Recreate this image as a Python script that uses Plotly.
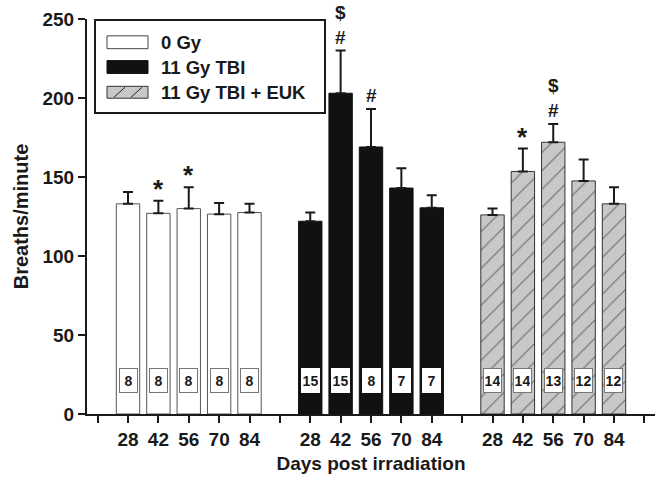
import plotly.graph_objects as go

# ---- data ----
days = ["28", "42", "56", "70", "84"]
series_names = ["0 Gy", "11 Gy TBI", "11 Gy TBI + EUK"]
group_pos = [[1, 2, 3, 4, 5], [7, 8, 9, 10, 11], [13, 14, 15, 16, 17]]
sep_pos = [0, 6, 12, 18]

means_0gy = [133, 127, 130, 126.5, 127.5]
err_0gy = [7.5, 8, 13.5, 7, 5.5]
means_tbi = [122, 203, 169, 143, 130.5]
err_tbi = [5.5, 27, 24, 12.5, 8]
means_euk = [126, 153.5, 172, 147.5, 133]
err_euk = [4, 14.5, 11.5, 13.5, 10.5]

n_0gy = ["8", "8", "8", "8", "8"]
n_tbi = ["15", "15", "8", "7", "7"]
n_euk = ["14", "14", "13", "12", "12"]

sig_0gy = ["", "*", "*", "", ""]
sig_tbi = ["", "$<br>#", "#", "", ""]
sig_euk = ["", "*", "$<br>#", "", ""]

n_label_y = 21.5

FONT = "Liberation Sans, Arial, sans-serif"
INK = "#1a1a1a"

fig = go.Figure()

styles = [
    dict(color="white", line=dict(color="#555555", width=1)),
    dict(color="#111111", line=dict(color="#111111", width=1)),
    dict(color="#c8c8c8", line=dict(color="#333333", width=1),
         pattern=dict(shape="/", bgcolor="#c8c8c8", fgcolor="#111111",
                      size=13, solidity=0.09)),
]
all_means = [means_0gy, means_tbi, means_euk]
all_errs = [err_0gy, err_tbi, err_euk]
all_n = [n_0gy, n_tbi, n_euk]
all_sig = [sig_0gy, sig_tbi, sig_euk]

for i in range(3):
    fig.add_trace(go.Bar(
        x=group_pos[i], y=all_means[i], name=series_names[i],
        width=0.77, marker=styles[i], showlegend=False,
        error_y=dict(type="data", array=all_errs[i], arrayminus=[0] * 5,
                     symmetric=False, color=INK, thickness=2, width=5),
    ))

annotations = []
for i in range(3):
    for x, m, e, n, s in zip(group_pos[i], all_means[i], all_errs[i], all_n[i], all_sig[i]):
        annotations.append(dict(
            x=x, y=n_label_y, xref="x", yref="y", text="<b>" + n + "</b>", showarrow=False,
            font=dict(family=FONT, size=14, color=INK), bgcolor="white",
            bordercolor="#777777" if i != 1 else "white", borderwidth=1,
            borderpad=1, width=15, height=21,
        ))
        if s:
            star = "*" in s
            annotations.append(dict(
                x=x, y=m + e, xref="x", yref="y", text="<b>" + s + "</b>",
                showarrow=False, yanchor="bottom", yshift=-5 if star else 1,
                font=dict(family=FONT, size=26 if star else 19, color=INK),
            ))

# ---- manual legend (wide swatches like the original) ----
L, R, T, B = 87, 655, 15, 414
def px(x):
    return (x - L) / (R - L)
def py(y):
    return (B - y) / (B - T)

shapes = [dict(type="rect", xref="paper", yref="paper",
               x0=px(95), x1=px(325), y0=py(110), y1=py(16),
               line=dict(color=INK, width=2), fillcolor="white", layer="above")]
rows = [(32, 45, "white", "#444444"), (57, 70, "#111111", "#111111"), (83, 95, "#c8c8c8", "#333333")]
for (y0, y1, fc, lc), name in zip(rows, series_names):
    shapes.append(dict(type="rect", xref="paper", yref="paper",
                       x0=px(107), x1=px(148), y0=py(y1), y1=py(y0),
                       line=dict(color=lc, width=1), fillcolor=fc, layer="above"))
    annotations.append(dict(x=px(159), y=py((y0 + y1) / 2), xref="paper", yref="paper",
                            text="<b>" + name + "</b>", showarrow=False,
                            xanchor="left", yanchor="middle",
                            font=dict(family=FONT, size=18.5, color=INK)))
for xa in (114, 131):
    shapes.append(dict(type="line", xref="paper", yref="paper",
                       x0=px(xa), y0=py(94), x1=px(xa + 11), y1=py(84),
                       line=dict(color="#222222", width=1), layer="above"))

tickvals = list(range(19))
ticktext = []
for t in tickvals:
    if t in sep_pos:
        ticktext.append("")
    else:
        g = 0 if t < 6 else (1 if t < 12 else 2)
        ticktext.append(days[group_pos[g].index(t)])

fig.update_layout(
    width=664, height=482,
    margin=dict(l=L, r=664 - R, t=T, b=482 - B),
    paper_bgcolor="white", plot_bgcolor="white",
    barmode="overlay",
    font=dict(family=FONT, size=18, color=INK),
    showlegend=False,
    shapes=shapes, annotations=annotations,
    xaxis=dict(range=[-0.35, 18.35], tickvals=tickvals, ticktext=ticktext,
               tickfont=dict(family=FONT, size=19, color=INK, weight="bold"),
               ticks="outside", ticklen=7, tickwidth=2, tickcolor=INK,
               showline=True, linewidth=2, linecolor=INK, showgrid=False, zeroline=False,
               title=dict(text="<b>Days post irradiation</b>", font=dict(size=19), standoff=8)),
    yaxis=dict(range=[0, 250], tickvals=[0, 50, 100, 150, 200, 250],
               tickfont=dict(family=FONT, size=19, color=INK, weight="bold"),
               ticks="outside", ticklen=7, tickwidth=2, tickcolor=INK,
               showline=True, linewidth=2, linecolor=INK, showgrid=False, zeroline=False,
               title=dict(text="<b>Breaths/minute</b>", font=dict(size=20), standoff=8)),
)

fig.write_html("out.html", config={"displayModeBar": False},
               post_script="document.body.style.margin='0';document.body.style.overflow='hidden';")
